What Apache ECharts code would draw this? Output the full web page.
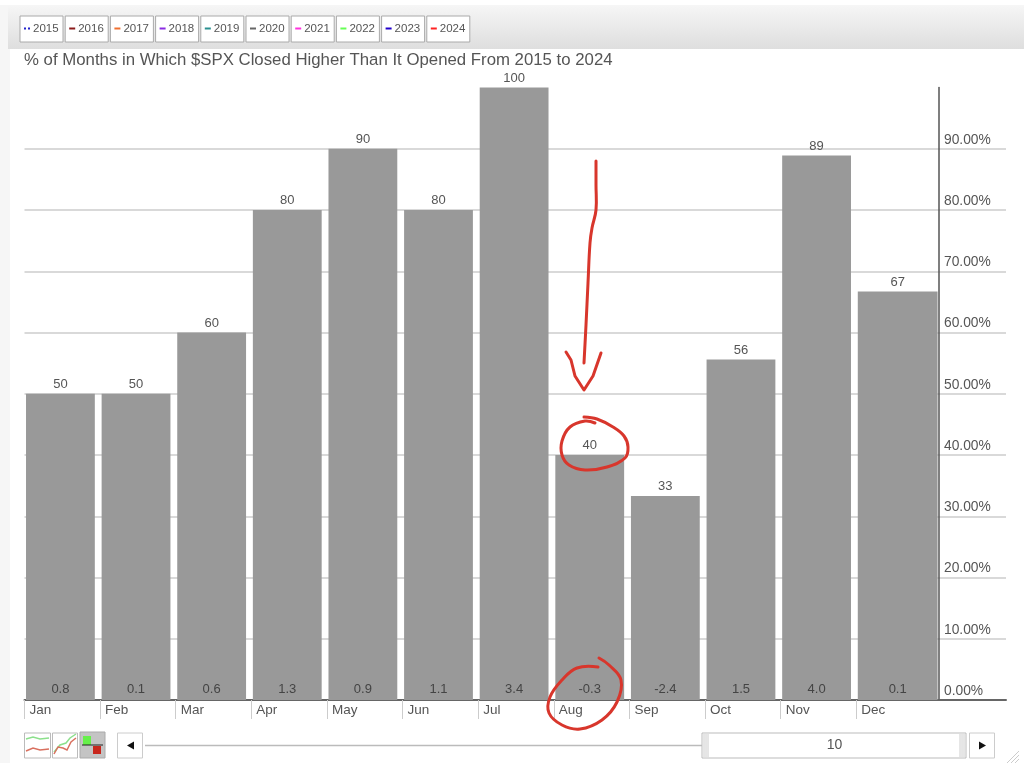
<!DOCTYPE html>
<html>
<head>
<meta charset="utf-8">
<style>
  html, body { margin: 0; padding: 0; background: #fff; }
  #chart { width: 1024px; height: 776px; filter: blur(0.4px); }
</style>
<script src="https://cdn.jsdelivr.net/npm/echarts@6/dist/echarts.min.js"></script>
</head>
<body>
<div id="chart"></div>
<script>
const months = ['Jan', 'Feb', 'Mar', 'Apr', 'May', 'Jun', 'Jul', 'Aug', 'Sep', 'Oct', 'Nov', 'Dec'];
const pctHigher = [50, 50, 60, 80, 90, 80, 100, 40, 33.3, 55.6, 88.9, 66.7];
const avgChange = ['0.8', '0.1', '0.6', '1.3', '0.9', '1.1', '3.4', '-0.3', '-2.4', '1.5', '4.0', '0.1'];
const years = ['2015', '2016', '2017', '2018', '2019', '2020', '2021', '2022', '2023', '2024'];
const yearColors = ['#2222cc', '#8b1a1a', '#f07030', '#8a2be2', '#2a9090', '#666666', '#ff33dd', '#66ff55', '#2200cc', '#ff2222'];
const titleText = '% of Months in Which $SPX Closed Higher Than It Opened From 2015 to 2024';

const textColor = '#555';
const barColor = '#999';
const font = '"Liberation Sans", Arial, sans-serif';

const chart = echarts.init(document.getElementById('chart'));

// bars are custom so the last one can run wider, up to the price axis
const renderBar = (params, api) => {
  const i = api.value(0);
  const v = api.value(1);
  const left = i + 0.02;
  const right = i === months.length - 1 ? i + 1.075 : i + 0.93;
  const p0 = api.coord([left, 0]);
  const p1 = api.coord([right, v]);
  const mid = (p0[0] + p1[0]) / 2;
  return {
    type: 'group',
    children: [
      {
        type: 'rect',
        shape: { x: p0[0], y: p1[1], width: p1[0] - p0[0], height: p0[1] - p1[1] },
        style: { fill: barColor }
      },
      {
        type: 'text',
        style: { text: String(Math.round(v)), x: mid, y: p1[1] - 3, align: 'center', verticalAlign: 'bottom', fill: textColor, font: '13px ' + font }
      },
      {
        type: 'text',
        style: { text: avgChange[i], x: mid, y: p0[1] - 4, align: 'center', verticalAlign: 'bottom', fill: '#444', font: '13px ' + font }
      }
    ]
  };
};

const toolbar = [];

// page frame and header band
toolbar.push({ type: 'rect', shape: { x: 0, y: 5, width: 10, height: 758 }, style: { fill: '#f6f6f6' }, silent: true });
toolbar.push({
  type: 'rect',
  shape: { x: 8, y: 5, width: 1016, height: 44 },
  style: {
    fill: new echarts.graphic.LinearGradient(0, 0, 0, 1, [
      { offset: 0, color: '#f6f6f6' },
      { offset: 1, color: '#dedede' }
    ])
  }
});

// year buttons
years.forEach((y, i) => {
  const x = 20 + i * 45.2;
  toolbar.push({ type: 'rect', shape: { x: x, y: 16, width: 43, height: 26 }, style: { fill: '#fff', stroke: '#aaa', lineWidth: 1 } });
  toolbar.push({
    type: 'line',
    shape: { x1: x + 4, y1: 28.5, x2: x + 10, y2: 28.5 },
    style: { stroke: yearColors[i], lineWidth: 2, lineDash: i === 0 ? [2, 2] : null }
  });
  toolbar.push({ type: 'text', style: { text: y, x: x + 13, y: 29, verticalAlign: 'middle', fill: textColor, font: '11.5px ' + font } });
});

// bottom left view icons
toolbar.push({ type: 'rect', shape: { x: 24.5, y: 733, width: 26, height: 25 }, style: { fill: '#fff', stroke: '#bbb' } });
toolbar.push({ type: 'polyline', shape: { points: [[26, 739], [33, 737], [40, 739], [49, 738]] }, style: { fill: null, stroke: '#8ce08c', lineWidth: 1.5 } });
toolbar.push({ type: 'polyline', shape: { points: [[26, 751], [33, 748], [40, 750], [49, 749]] }, style: { fill: null, stroke: '#d9705f', lineWidth: 1.5 } });
toolbar.push({ type: 'rect', shape: { x: 52.5, y: 733, width: 25, height: 25 }, style: { fill: '#fff', stroke: '#bbb' } });
toolbar.push({ type: 'polyline', shape: { points: [[54, 752], [60, 745], [66, 743], [70, 738], [76, 734]] }, style: { fill: null, stroke: '#8ce08c', lineWidth: 1.5 } });
toolbar.push({ type: 'polyline', shape: { points: [[54, 754], [58, 747], [63, 748], [67, 750], [71, 742], [76, 738]] }, style: { fill: null, stroke: '#d9705f', lineWidth: 1.5 } });
toolbar.push({ type: 'rect', shape: { x: 80, y: 732, width: 25, height: 26 }, style: { fill: '#c4c4c4', stroke: '#aaa' } });
toolbar.push({ type: 'rect', shape: { x: 83, y: 736, width: 8, height: 9 }, style: { fill: '#66f04a' } });
toolbar.push({ type: 'line', shape: { x1: 82, y1: 745, x2: 103, y2: 745 }, style: { stroke: '#222', lineWidth: 1 } });
toolbar.push({ type: 'rect', shape: { x: 93, y: 746, width: 8, height: 8 }, style: { fill: '#c8261c' } });

// range slider
toolbar.push({ type: 'line', shape: { x1: 145, y1: 745.5, x2: 702, y2: 745.5 }, style: { stroke: '#bbb', lineWidth: 1.5 } });
toolbar.push({ type: 'rect', shape: { x: 117.5, y: 733, width: 25, height: 25 }, style: { fill: '#fff', stroke: '#ccc' } });
toolbar.push({ type: 'polygon', shape: { points: [[127, 745.5], [134, 741.5], [134, 749.5]] }, style: { fill: '#111' } });
toolbar.push({ type: 'rect', shape: { x: 702, y: 733, width: 264, height: 25 }, style: { fill: '#fff', stroke: '#bbb' } });
[704, 706, 708, 960, 962, 964].forEach(x => {
  toolbar.push({ type: 'line', shape: { x1: x, y1: 734, x2: x, y2: 757 }, style: { stroke: '#ccc', lineWidth: 1 } });
});
toolbar.push({ type: 'text', style: { text: '10', x: 834.5, y: 745.5, align: 'center', verticalAlign: 'middle', fill: textColor, font: '14px ' + font } });
toolbar.push({ type: 'rect', shape: { x: 969.5, y: 733, width: 25, height: 25 }, style: { fill: '#fff', stroke: '#ccc' } });
toolbar.push({ type: 'polygon', shape: { points: [[986, 745.5], [979, 741.5], [979, 749.5]] }, style: { fill: '#111' } });
[0, 4, 8].forEach(d => {
  toolbar.push({ type: 'line', shape: { x1: 1007 + d, y1: 763, x2: 1019, y2: 751 + d }, style: { stroke: '#ccc', lineWidth: 1 } });
});

// red hand drawn marks on top of the chart
const ink = { fill: null, stroke: '#d8362c', lineWidth: 3, lineCap: 'round', lineJoin: 'round' };
const inkCurves = [
  [[596, 161], [596, 185], [596, 210], [592, 228], [590, 243], [588, 283], [586, 325], [584, 363]],
  [[584, 417], [597, 419], [613, 427], [624, 436], [628, 447], [625, 458], [607, 467], [585, 470], [569, 465], [562, 455], [562, 441], [570, 427], [585, 421], [595, 423]],
  [[598, 667], [577, 668], [562, 680], [550, 697], [549, 713], [562, 725], [580, 729], [602, 720], [617, 702], [621, 680], [609, 665], [599, 658]]
];
inkCurves.forEach(pts => {
  toolbar.push({ type: 'polyline', shape: { points: pts, smooth: 0.4 }, style: ink, z: 100 });
});
// arrow head keeps its sharp tip
toolbar.push({ type: 'polyline', shape: { points: [[566, 352], [571, 360], [575, 376], [584, 390], [593, 376], [601, 353]] }, style: ink, z: 100 });

chart.setOption({
  animation: false,
  title: {
    text: titleText,
    left: 19,
    top: 47,
    textStyle: { fontFamily: font, fontWeight: 'normal', fontSize: 16.8, color: textColor }
  },
  grid: { left: 24.5, right: 18, top: 87.5, height: 612.5 },
  xAxis: {
    type: 'value',
    min: 0,
    max: 12.98,
    interval: 1,
    splitLine: { show: false },
    axisLine: { onZero: false, lineStyle: { color: '#666', width: 2 } },
    axisTick: { show: true, customValues: months.map((m, i) => i), length: 19, lineStyle: { color: '#ccc', width: 1 } },
    axisLabel: {
      customValues: months.map((m, i) => i),
      formatter: v => months[v] || '',
      align: 'left',
      margin: 3,
      padding: [0, 0, 0, 5],
      fontFamily: font,
      fontSize: 13.5,
      color: textColor
    }
  },
  yAxis: {
    type: 'value',
    position: 'right',
    offset: -67,
    min: 0,
    max: 100,
    interval: 10,
    axisLine: { show: true, onZero: false, lineStyle: { color: '#555', width: 1.5 } },
    axisTick: { show: false },
    splitLine: { show: true, showMaxLine: false, lineStyle: { color: '#ccc', width: 1.5 } },
    axisLabel: {
      formatter: v => (v === 100 ? '' : v.toFixed(2) + '%'),
      margin: 5,
      verticalAlign: 'bottom',
      padding: [0, 0, 2, 0],
      fontFamily: font,
      fontSize: 13.8,
      color: textColor
    }
  },
  series: [
    {
      type: 'custom',
      renderItem: renderBar,
      encode: { x: 0, y: 1 },
      data: months.map((m, i) => [i, pctHigher[i]]),
      z: 5
    }
  ],
  graphic: toolbar
});
</script>
</body>
</html>
